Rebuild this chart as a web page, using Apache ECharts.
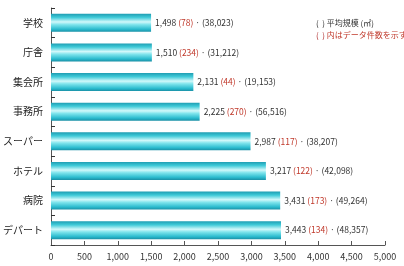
<!DOCTYPE html>
<html>
<head>
<meta charset="utf-8">
<script src="https://cdn.jsdelivr.net/npm/echarts@6/dist/echarts.min.js"></script>
<style>
  html, body { margin: 0; padding: 0; background: #fff; }
  #chart { width: 404px; height: 266px; }
</style>
</head>
<body>
<div id="chart"></div>
<script>
// 用途別 平均規模
var categories = ['学校', '庁舎', '集会所', '事務所', 'スーパー', 'ホテル', '病院', 'デパート'];
var avgSize = [1498, 1510, 2131, 2225, 2987, 3217, 3431, 3443];
var dataCount = [78, 234, 44, 270, 117, 122, 173, 134];
var totalArea = ['38,023', '31,212', '19,153', '56,516', '38,207', '42,098', '49,264', '48,357'];
var xTicks = [0, 500, 1000, 1500, 2000, 2500, 3000, 3500, 4000, 4500, 5000];

var font = "'Liberation Sans Narrow', 'Noto Sans CJK JP', sans-serif";

function fmt(v) {
    return String(v).replace(/\B(?=(\d{3})+(?!\d))/g, ',');
}

var chart = echarts.init(document.getElementById('chart'));

var barColor = new echarts.graphic.LinearGradient(0, 0, 0, 1, [
    { offset: 0, color: '#1f9db2' },
    { offset: 0.2, color: '#3fcad8' },
    { offset: 0.45, color: '#d2f8fa' },
    { offset: 0.6, color: '#7fe4ec' },
    { offset: 0.85, color: '#2cbccf' },
    { offset: 1, color: '#1a90a6' }
]);

chart.setOption({
    animation: false,
    grid: { left: 48, right: 19, top: 8, bottom: 21 },
    xAxis: {
        type: 'value',
        min: xTicks[0],
        max: xTicks[xTicks.length - 1],
        interval: 500,
        axisLine: { show: true, lineStyle: { color: '#555' } },
        axisTick: { show: true, inside: true, length: 4, lineStyle: { color: '#555' } },
        splitLine: { show: false },
        axisLabel: {
            fontFamily: font, fontSize: 9, color: '#333', margin: 7,
            formatter: function (v) { return fmt(v); }
        }
    },
    yAxis: {
        type: 'category',
        data: categories,
        inverse: true,
        axisLine: { show: true, lineStyle: { color: '#555' } },
        axisTick: { show: true, inside: true, length: 4, lineStyle: { color: '#333' } },
        axisLabel: { fontFamily: font, fontSize: 10, color: '#222', margin: 8 }
    },
    series: [{
        type: 'bar',
        data: avgSize,
        barWidth: 18,
        itemStyle: { color: barColor },
        label: {
            show: true,
            position: 'right',
            distance: 4,
            fontFamily: font,
            fontSize: 8.5,
            color: '#333',
            formatter: function (p) {
                var i = p.dataIndex;
                return fmt(avgSize[i]) + ' {r|(' + dataCount[i] + ')} · (' + totalArea[i] + ')';
            },
            rich: {
                r: { color: '#c0392b', fontFamily: font, fontSize: 8.5 }
            }
        }
    }],
    graphic: [
        {
            type: 'text', left: 316, top: 19,
            style: { text: '(  ) 平均規模 (㎡)', fontFamily: font, fontSize: 8, fill: '#333' }
        },
        {
            type: 'text', left: 316, top: 31,
            style: {
                text: '(  ) {r|内はデータ件数を示す}',
                fontFamily: font, fontSize: 8, fill: '#b03030',
                rich: { r: { fill: '#c0392b', fontFamily: font, fontSize: 8 } }
            }
        }
    ]
});
</script>
</body>
</html>
